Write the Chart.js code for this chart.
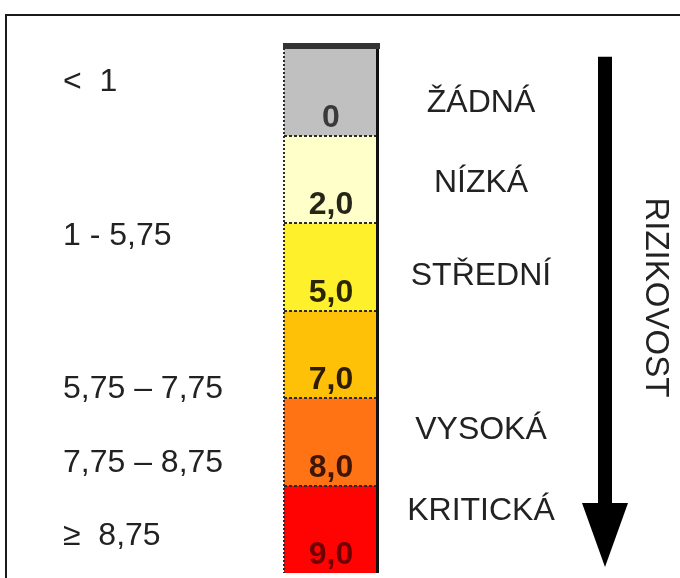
<!DOCTYPE html>
<html>
<head>
<meta charset="utf-8">
<script src="https://cdn.jsdelivr.net/npm/chart.js@4.4.1/dist/chart.umd.min.js"></script>
<style>
  html, body { margin: 0; padding: 0; background: #fff; }
  canvas { display: block; }
</style>
</head>
<body>
<canvas id="riskChart" width="680" height="578"></canvas>
<script>
"use strict";

// score thresholds written inside the column, top to bottom
const SCORE_LABELS = ["0", "2,0", "5,0", "7,0", "8,0", "9,0"];
// every band takes the same height on the scale
const BAND_SIZES = [1, 1, 1, 1, 1, 1];
// ranges on the left, and where they sit on the band scale
const RANGE_LABELS = ["<  1", "1 - 5,75", "5,75 – 7,75", "7,75 – 8,75", "≥  8,75"];
const RANGE_AT = [0.49, 2.25, 4.0, 4.85, 5.68];
// risk levels on the right
const LEVEL_LABELS = ["ŽÁDNÁ", "NÍZKÁ", "STŘEDNÍ", "VYSOKÁ", "KRITICKÁ"];
const LEVEL_AT = [0.73, 1.65, 2.71, 4.47, 5.39];
const AXIS_TITLE = "RIZIKOVOST";

const BAND_COLORS = ["#c0c0c0", "#ffffca", "#fff02c", "#ffc107", "#ff7314", "#ff0303"];
const SCORE_COLORS = ["#3a3a3a", "#262618", "#2a2700", "#2e1c00", "#3f1506", "#6e0000"];
const TEXT_COLOR = "#222";
const FONT = "'Liberation Sans', Arial, sans-serif";

const total = BAND_SIZES.reduce((a, b) => a + b, 0);

const decorations = {
  id: "decorations",
  afterDatasetsDraw(chart) {
    const { ctx, chartArea: area, scales: { y } } = chart;
    ctx.save();

    // outer frame (top and left edges only are visible)
    ctx.strokeStyle = "#1a1a1a";
    ctx.lineWidth = 2;
    ctx.beginPath();
    ctx.moveTo(6, 578);
    ctx.lineTo(6, 15);
    ctx.lineTo(680, 15);
    ctx.stroke();

    // dashed separators between bands
    ctx.strokeStyle = "#2b2b2b";
    ctx.lineWidth = 2;
    ctx.setLineDash([3, 2]);
    let acc = 0;
    for (let i = 0; i < BAND_SIZES.length - 1; i++) {
      acc += BAND_SIZES[i];
      const py = Math.round(y.getPixelForValue(acc));
      ctx.beginPath();
      ctx.moveTo(area.left, py);
      ctx.lineTo(area.right, py);
      ctx.stroke();
    }
    // dotted left edge
    ctx.setLineDash([2, 2]);
    ctx.beginPath();
    ctx.moveTo(area.left, area.top);
    ctx.lineTo(area.left, area.bottom);
    ctx.stroke();
    ctx.setLineDash([]);

    // solid right edge and heavy top cap
    ctx.strokeStyle = "#111";
    ctx.lineWidth = 3;
    ctx.beginPath();
    ctx.moveTo(area.right - 0.5, area.top - 4);
    ctx.lineTo(area.right - 0.5, area.bottom);
    ctx.stroke();
    ctx.fillStyle = "#333";
    ctx.fillRect(area.left - 1, area.top - 5, area.right - area.left + 3, 6);

    // score labels at the bottom of each band
    ctx.font = "bold 32px " + FONT;
    ctx.textAlign = "center";
    ctx.textBaseline = "alphabetic";
    chart.data.datasets.forEach((ds, i) => {
      const bar = chart.getDatasetMeta(i).data[0];
      ctx.fillStyle = SCORE_COLORS[i];
      ctx.fillText(SCORE_LABELS[i], bar.x, bar.y - 9);
    });

    // left ranges
    ctx.font = "32px " + FONT;
    ctx.fillStyle = TEXT_COLOR;
    ctx.textAlign = "left";
    RANGE_LABELS.forEach((t, i) => ctx.fillText(t, 63, y.getPixelForValue(RANGE_AT[i])));

    // right levels
    ctx.textAlign = "center";
    LEVEL_LABELS.forEach((t, i) => ctx.fillText(t, 481, y.getPixelForValue(LEVEL_AT[i])));

    // arrow
    const ax = 605;
    const top = y.getPixelForValue(0.1);
    const headStart = y.getPixelForValue(5.2);
    const tip = y.getPixelForValue(5.93);
    ctx.fillStyle = "#000";
    ctx.fillRect(ax - 7, top, 14, headStart - top + 2);
    ctx.beginPath();
    ctx.moveTo(ax - 23, headStart);
    ctx.lineTo(ax + 23, headStart);
    ctx.lineTo(ax, tip);
    ctx.closePath();
    ctx.fill();

    // rotated title
    ctx.translate(655, y.getPixelForValue(2.85));
    ctx.rotate(Math.PI / 2);
    ctx.fillStyle = TEXT_COLOR;
    ctx.textAlign = "center";
    ctx.textBaseline = "middle";
    ctx.font = "33px " + FONT;
    ctx.fillText(AXIS_TITLE, 0, 0);

    ctx.restore();
  }
};

new Chart(document.getElementById("riskChart"), {
  type: "bar",
  data: {
    labels: [""],
    datasets: SCORE_LABELS.map((lab, i) => ({
      label: lab,
      data: [BAND_SIZES[i]],
      backgroundColor: BAND_COLORS[i],
      borderWidth: 0,
      barPercentage: 1,
      categoryPercentage: 1
    }))
  },
  options: {
    responsive: false,
    animation: false,
    devicePixelRatio: 1,
    layout: { padding: { left: 284, right: 302, top: 48, bottom: 5 } },
    plugins: { legend: { display: false }, tooltip: { enabled: false } },
    scales: {
      x: { stacked: true, display: false },
      y: { stacked: true, display: false, reverse: true, min: 0, max: total }
    }
  },
  plugins: [decorations]
});
</script>
</body>
</html>
